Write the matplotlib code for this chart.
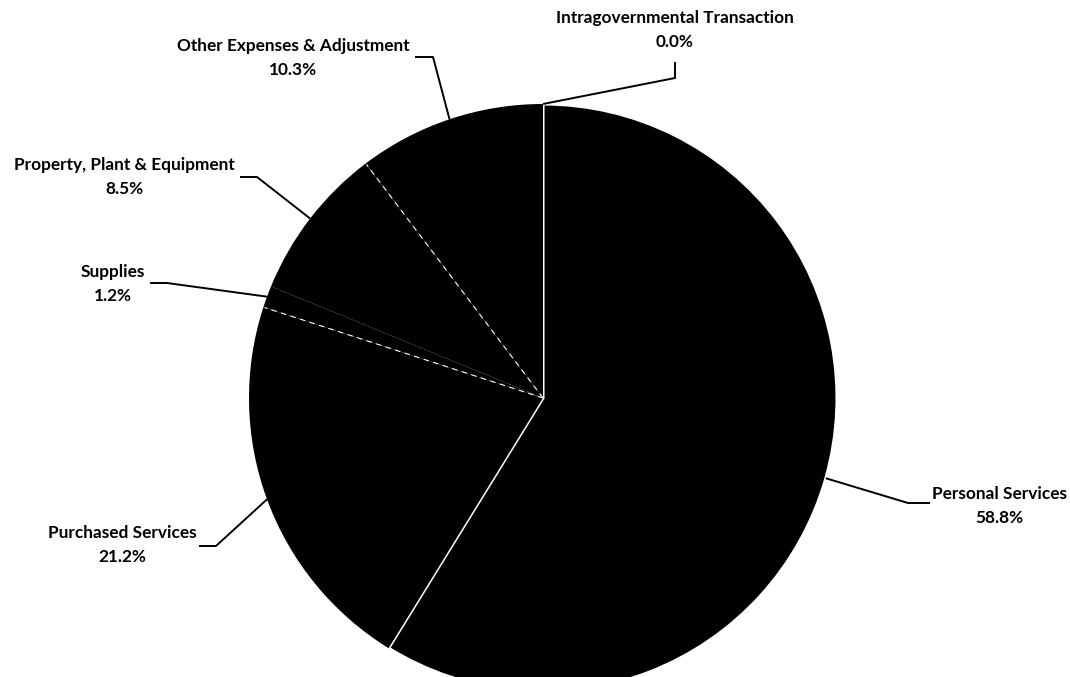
import matplotlib
matplotlib.use("Agg")
import matplotlib.pyplot as plt
import numpy as np

categories = ["Personal Services", "Purchased Services", "Supplies",
              "Property, Plant & Equipment", "Other Expenses & Adjustment",
              "Intragovernmental Transaction"]
shares = [58.8, 21.2, 1.2, 8.5, 10.3, 0.0]
share_labels = ["58.8%", "21.2%", "1.2%", "8.5%", "10.3%", "0.0%"]

W, H = 1070, 677
fig = plt.figure(figsize=(W / 100, H / 100), dpi=100)
ax = fig.add_axes([0, 0, 1, 1])

def fy(y):
    return H - y

cx, cy, R = 543, fy(398), 294
wedges, _ = ax.pie(shares, startangle=90, counterclock=False, center=(cx, cy),
                   radius=R, colors=["black"] * len(shares),
                   wedgeprops=dict(edgecolor="black", linewidth=0))
wedges[0].set_edgecolor("white")
wedges[0].set_linewidth(2.2)

# faint dashed boundaries between some of the small wedges
for idx in (2, 4):
    t = np.deg2rad(wedges[idx].theta2)
    ax.plot([cx, cx + R * 0.995 * np.cos(t)], [cy, cy + R * 0.995 * np.sin(t)],
            color="white", lw=0.8, linestyle=(0, (5, 4)), zorder=3)

ax.set_xlim(0, W)
ax.set_ylim(0, H)
ax.set_aspect("auto")
ax.axis("off")

# label text centre (x, y of first line) and elbow points, in pixel coords
label_pos = {
    "Personal Services": (999, 494, [(930, 503), (908, 503)]),
    "Purchased Services": (122, 533, [(199, 546), (216, 546)]),
    "Supplies": (113, 272, [(150, 283), (167, 283)]),
    "Property, Plant & Equipment": (124, 165, [(240, 177), (257, 177)]),
    "Other Expenses & Adjustment": (293, 46, [(415, 57), (433, 57)]),
    "Intragovernmental Transaction": (675, 18, [(675, 62), (675, 78)]),
}

font = dict(family=["Lato", "DejaVu Sans"], fontweight="bold", fontsize=12.4, color="black")
for w, cat, lab in zip(wedges, categories, share_labels):
    tx, ty, elbow = label_pos[cat]
    ax.text(tx, fy(ty), cat, ha="center", va="center", **font)
    ax.text(tx, fy(ty + 24), lab, ha="center", va="center", **font)
    mid = np.deg2rad((w.theta1 + w.theta2) / 2)
    ex, ey = cx + R * np.cos(mid), cy + R * np.sin(mid)
    xs = [p[0] for p in elbow] + [ex]
    ys = [fy(p[1]) for p in elbow] + [ey]
    ax.plot(xs, ys, color="black", lw=1.4, solid_capstyle="butt")

fig.savefig("out.png", dpi=100, facecolor="white")
